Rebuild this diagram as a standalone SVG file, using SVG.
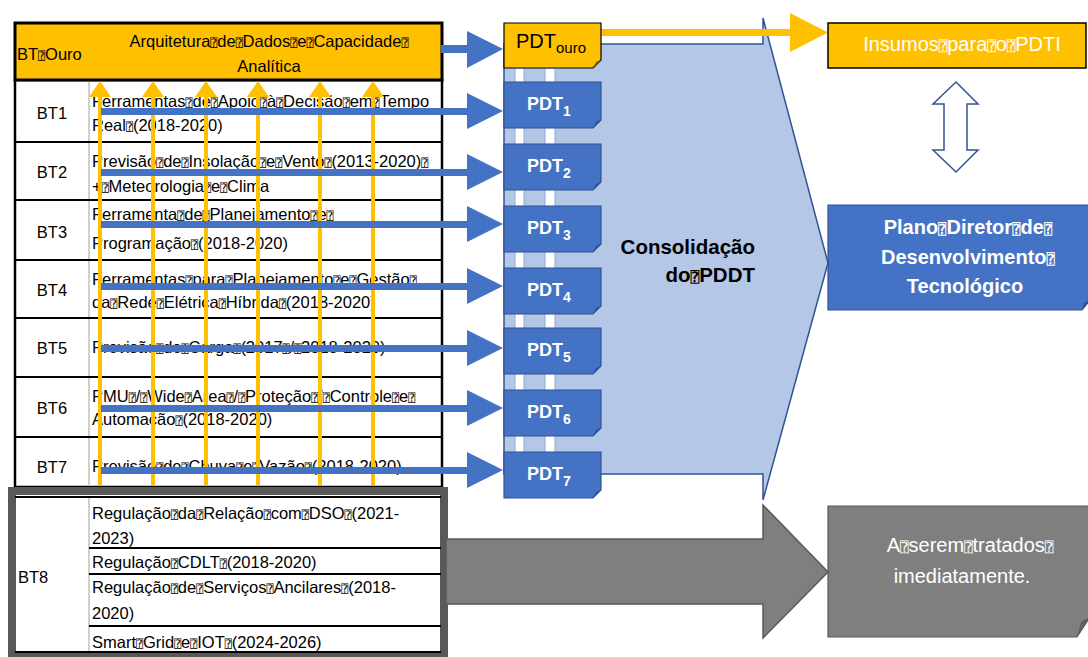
<svg xmlns="http://www.w3.org/2000/svg" width="1088" height="657" viewBox="0 0 1088 657">
<style>
.t{font-family:"Liberation Sans",Arial,sans-serif;font-size:16.5px;fill:#000}
.q{font-family:"DejaVu Sans Mono","DejaVu Sans",monospace;font-size:70%}
.lbl{font-family:"Liberation Sans",Arial,sans-serif;font-size:16.5px;fill:#000;text-anchor:middle}
.rl{stroke:#000;stroke-width:2}
.dv{stroke:#D0D0D0;stroke-width:2}
.pdt{fill:#4472C4;stroke:#2F528F;stroke-width:1.2}
.fold{fill:#2F528F}
.pt{font-family:"Liberation Sans",Arial,sans-serif;font-weight:bold;font-size:18px;fill:#fff}
.sub{font-size:14px}
.ya{fill:#FFC000}
.ba{fill:#4472C4}
.strip{fill:#fff;stroke:#8FAADC;stroke-width:1}
.wt{font-family:"Liberation Sans",Arial,sans-serif;font-size:20px;fill:#fff;text-anchor:middle}
.bt{font-family:"Liberation Sans",Arial,sans-serif;font-size:20px;font-weight:bold;fill:#fff;text-anchor:middle}
.ct{font-family:"Liberation Sans",Arial,sans-serif;font-size:20.5px;font-weight:bold;fill:#000;text-anchor:end}
</style>

<g id="table">
  <rect x="15" y="80" width="427" height="407" fill="#fff" stroke="#000" stroke-width="2.5"/>
  <line class="dv" x1="89" y1="81" x2="89" y2="486"/>
  <line class="rl" x1="15" y1="142" x2="442" y2="142"/>
  <line class="rl" x1="15" y1="200" x2="442" y2="200"/>
  <line class="rl" x1="15" y1="260" x2="442" y2="260"/>
  <line class="rl" x1="15" y1="318" x2="442" y2="318"/>
  <line class="rl" x1="15" y1="377" x2="442" y2="377"/>
  <line class="rl" x1="15" y1="437" x2="442" y2="437"/>
  <rect x="15" y="23" width="427" height="57" fill="#FFC000" stroke="#000" stroke-width="3"/>
  <text class="t" x="17" y="60">BT<tspan class="q">⍰</tspan>Ouro</text>
  <text class="lbl" x="269" y="47">Arquitetura<tspan class="q">⍰</tspan>de<tspan class="q">⍰</tspan>Dados<tspan class="q">⍰</tspan>e<tspan class="q">⍰</tspan>Capacidade<tspan class="q">⍰</tspan></text>
  <text class="lbl" x="269" y="72">Analítica</text>

  <text class="lbl" x="52" y="119">BT1</text>
  <text class="lbl" x="52" y="178">BT2</text>
  <text class="lbl" x="52" y="238">BT3</text>
  <text class="lbl" x="52" y="296">BT4</text>
  <text class="lbl" x="52" y="354">BT5</text>
  <text class="lbl" x="52" y="414">BT6</text>
  <text class="lbl" x="52" y="473">BT7</text>

  <text class="t" x="92" y="107">Ferramentas<tspan class="q">⍰</tspan>de<tspan class="q">⍰</tspan>Apoio<tspan class="q">⍰</tspan>à<tspan class="q">⍰</tspan>Decisão<tspan class="q">⍰</tspan>em<tspan class="q">⍰</tspan>Tempo</text>
  <text class="t" x="92" y="131">Real<tspan class="q">⍰</tspan>(2018-2020)</text>
  <text class="t" x="92" y="167">Previsão<tspan class="q">⍰</tspan>de<tspan class="q">⍰</tspan>Insolação<tspan class="q">⍰</tspan>e<tspan class="q">⍰</tspan>Vento<tspan class="q">⍰</tspan>(2013-2020)<tspan class="q">⍰</tspan></text>
  <text class="t" x="92" y="192">+<tspan class="q">⍰</tspan>Meteorologia<tspan class="q">⍰</tspan>e<tspan class="q">⍰</tspan>Clima</text>
  <text class="t" x="92" y="220">Ferramenta<tspan class="q">⍰</tspan>de<tspan class="q">⍰</tspan>Planejamento<tspan class="q">⍰</tspan>e<tspan class="q">⍰</tspan></text>
  <text class="t" x="92" y="249">Programação<tspan class="q">⍰</tspan>(2018-2020)</text>
  <text class="t" x="92" y="285">Ferramentas<tspan class="q">⍰</tspan>para<tspan class="q">⍰</tspan>Planejamento<tspan class="q">⍰</tspan>e<tspan class="q">⍰</tspan>Gestão<tspan class="q">⍰</tspan></text>
  <text class="t" x="92" y="308">da<tspan class="q">⍰</tspan>Rede<tspan class="q">⍰</tspan>Elétrica<tspan class="q">⍰</tspan>Híbrida<tspan class="q">⍰</tspan>(2018-2020)</text>
  <text class="t" x="92" y="353">Previsão<tspan class="q">⍰</tspan>de<tspan class="q">⍰</tspan>Carga<tspan class="q">⍰</tspan>(2017<tspan class="q">⍰</tspan>/<tspan class="q">⍰</tspan>2018-2020)</text>
  <text class="t" x="92" y="402">PMU<tspan class="q">⍰</tspan>/<tspan class="q">⍰</tspan>Wide<tspan class="q">⍰</tspan>Area<tspan class="q">⍰</tspan>/<tspan class="q">⍰</tspan>Proteção<tspan class="q">⍰</tspan>/<tspan class="q">⍰</tspan>Controle<tspan class="q">⍰</tspan>e<tspan class="q">⍰</tspan></text>
  <text class="t" x="92" y="425">Automação<tspan class="q">⍰</tspan>(2018-2020)</text>
  <text class="t" x="92" y="472">Previsão<tspan class="q">⍰</tspan>de<tspan class="q">⍰</tspan>Chuva<tspan class="q">⍰</tspan>e<tspan class="q">⍰</tspan>Vazão<tspan class="q">⍰</tspan>(2018-2020)</text>
</g>

<g id="bt8">
  <rect x="12" y="491" width="432" height="166" fill="#fff" stroke="#595959" stroke-width="8"/>
  <line class="rl" x1="15" y1="497" x2="441" y2="497"/>
  <line class="rl" x1="15" y1="652" x2="441" y2="652"/>
  <line class="dv" x1="89" y1="498" x2="89" y2="651"/>
  <line class="rl" x1="89" y1="548" x2="441" y2="548"/>
  <line class="rl" x1="89" y1="574" x2="441" y2="574"/>
  <line class="rl" x1="89" y1="626" x2="441" y2="626"/>
  <text class="t" x="18" y="583">BT8</text>
  <text class="t" x="92" y="519">Regulação<tspan class="q">⍰</tspan>da<tspan class="q">⍰</tspan>Relação<tspan class="q">⍰</tspan>com<tspan class="q">⍰</tspan>DSO<tspan class="q">⍰</tspan>(2021-</text>
  <text class="t" x="92" y="544">2023)</text>
  <text class="t" x="92" y="568">Regulação<tspan class="q">⍰</tspan>CDLT<tspan class="q">⍰</tspan>(2018-2020)</text>
  <text class="t" x="92" y="593">Regulação<tspan class="q">⍰</tspan>de<tspan class="q">⍰</tspan>Serviços<tspan class="q">⍰</tspan>Ancilares<tspan class="q">⍰</tspan>(2018-</text>
  <text class="t" x="92" y="619">2020)</text>
  <text class="t" x="92" y="648">Smart<tspan class="q">⍰</tspan>Grid<tspan class="q">⍰</tspan>e<tspan class="q">⍰</tspan>IOT<tspan class="q">⍰</tspan>(2024-2026)</text>
</g>

<g id="consolidacao">
  <polygon points="504,44 763,44 763,18 828,263 763,500 763,474 504,474" fill="#B4C7E7" stroke="#2F5597" stroke-width="1.5"/>
  <rect class="strip" x="515" y="68" width="9" height="390"/>
  <rect class="strip" x="545" y="68" width="10" height="390"/>
  <text class="ct" x="755" y="254">Consolidação</text>
  <text class="ct" x="755" y="282">do<tspan class="q">⍰</tspan>PDDT</text>
</g>

<g id="gray-arrow">
  <polygon points="446,539 763,539 763,505 828,572 763,638 763,604 446,604" fill="#7F7F7F" stroke="#595959" stroke-width="1.5"/>
</g>

<g id="connectors">
  <g id="yellow-arrows" class="ya">
    <rect x="98" y="95" width="4" height="391"/><polygon points="100,81 111,97 89,97"/>
    <rect x="151" y="95" width="4" height="391"/><polygon points="153,81 164,97 142,97"/>
    <rect x="204" y="95" width="4" height="391"/><polygon points="206,81 217,97 195,97"/>
    <rect x="256" y="95" width="4" height="391"/><polygon points="258,81 269,97 247,97"/>
    <rect x="318" y="95" width="4" height="391"/><polygon points="320,81 331,97 309,97"/>
    <rect x="371" y="95" width="4" height="391"/><polygon points="373,81 384,97 362,97"/>
  </g>
  <g id="blue-arrows" class="ba">
    <rect x="441" y="45" width="28" height="8"/><polygon points="467,31 503,49 467,68"/>
    <rect x="101" y="108" width="368" height="7"/><polygon points="467,93 503,111 467,129"/>
    <rect x="101" y="169" width="368" height="7"/><polygon points="467,154 503,172 467,190"/>
    <rect x="101" y="221" width="368" height="7"/><polygon points="467,206 503,224 467,242"/>
    <rect x="101" y="283" width="368" height="7"/><polygon points="467,268 503,286 467,304"/>
    <rect x="101" y="345" width="368" height="7"/><polygon points="467,330 503,348 467,366"/>
    <rect x="101" y="405" width="368" height="7"/><polygon points="467,390 503,408 467,426"/>
    <rect x="101" y="467" width="368" height="7"/><polygon points="467,452 503,470 467,488"/>
  </g>
  <g id="yellow-top-arrow" class="ya">
    <rect x="601" y="29" width="191" height="7"/><polygon points="790,13 828,32.5 790,52"/>
  </g>
  <g id="double-arrow">
    <polygon points="956,82 978,104 967,104 967,150 978,150 956,172 933,150 944,150 944,104 933,104" fill="#fff" stroke="#2F5597" stroke-width="1.5"/>
  </g>
</g>

<g id="pdt-ouro">
  <path d="M504,23 H601 V60 L593,68 H504 Z" fill="#FFC000" stroke="#000" stroke-width="1.2"/>
  <path d="M593,68 L596,62 L601,60 Z" fill="#7f6000"/>
  <text font-family="Liberation Sans, Arial, sans-serif" font-size="20" x="516" y="48">PDT<tspan font-size="15" dy="5">ouro</tspan></text>
</g>
<g id="pdt1"><path class="pdt" d="M504,82 H601 V120 L593,128 H504 Z"/><path class="fold" d="M593,128 L596,122 L601,120 Z"/><text class="pt" x="527" y="110">PDT<tspan class="sub" dy="6">1</tspan></text></g>
<g id="pdt2"><path class="pdt" d="M504,144 H601 V182 L593,190 H504 Z"/><path class="fold" d="M593,190 L596,184 L601,182 Z"/><text class="pt" x="527" y="172">PDT<tspan class="sub" dy="6">2</tspan></text></g>
<g id="pdt3"><path class="pdt" d="M504,206 H601 V244 L593,252 H504 Z"/><path class="fold" d="M593,252 L596,246 L601,244 Z"/><text class="pt" x="527" y="234">PDT<tspan class="sub" dy="6">3</tspan></text></g>
<g id="pdt4"><path class="pdt" d="M504,268 H601 V306 L593,314 H504 Z"/><path class="fold" d="M593,314 L596,308 L601,306 Z"/><text class="pt" x="527" y="296">PDT<tspan class="sub" dy="6">4</tspan></text></g>
<g id="pdt5"><path class="pdt" d="M504,328 H601 V366 L593,374 H504 Z"/><path class="fold" d="M593,374 L596,368 L601,366 Z"/><text class="pt" x="527" y="356">PDT<tspan class="sub" dy="6">5</tspan></text></g>
<g id="pdt6"><path class="pdt" d="M504,390 H601 V428 L593,436 H504 Z"/><path class="fold" d="M593,436 L596,430 L601,428 Z"/><text class="pt" x="527" y="418">PDT<tspan class="sub" dy="6">6</tspan></text></g>
<g id="pdt7"><path class="pdt" d="M504,452 H601 V490 L593,498 H504 Z"/><path class="fold" d="M593,498 L596,492 L601,490 Z"/><text class="pt" x="527" y="480">PDT<tspan class="sub" dy="6">7</tspan></text></g>

<g id="insumos">
  <rect x="828" y="23" width="258" height="45" fill="#FFC000" stroke="#000" stroke-width="1.5"/>
  <text class="wt" x="962" y="51">Insumos<tspan class="q">⍰</tspan>para<tspan class="q">⍰</tspan>o<tspan class="q">⍰</tspan>PDTI</text>
</g>

<g id="plano">
  <path d="M828,205 H1090 V300 L1082,310 H828 Z" fill="#4472C4" stroke="#2F528F" stroke-width="1.2"/>
  <path d="M1082,310 L1084,303 L1090,300 Z" fill="#2F528F"/>
  <text class="bt" x="968" y="234">Plano<tspan class="q">⍰</tspan>Diretor<tspan class="q">⍰</tspan>de<tspan class="q">⍰</tspan></text>
  <text class="bt" x="968" y="264">Desenvolvimento<tspan class="q">⍰</tspan></text>
  <text class="bt" x="965" y="293">Tecnológico</text>
</g>

<g id="serem">
  <path d="M828,506 H1090 V617 L1077,637 H828 Z" fill="#7F7F7F" stroke="#595959" stroke-width="1.2"/>
  <path d="M1077,637 L1081,622 L1090,617 Z" fill="#5f5f5f"/>
  <text class="wt" x="970" y="552" font-size="20.5">A<tspan class="q">⍰</tspan>serem<tspan class="q">⍰</tspan>tratados<tspan class="q">⍰</tspan></text>
  <text class="wt" x="962" y="583" font-size="20.5">imediatamente.</text>
</g>
</svg>
